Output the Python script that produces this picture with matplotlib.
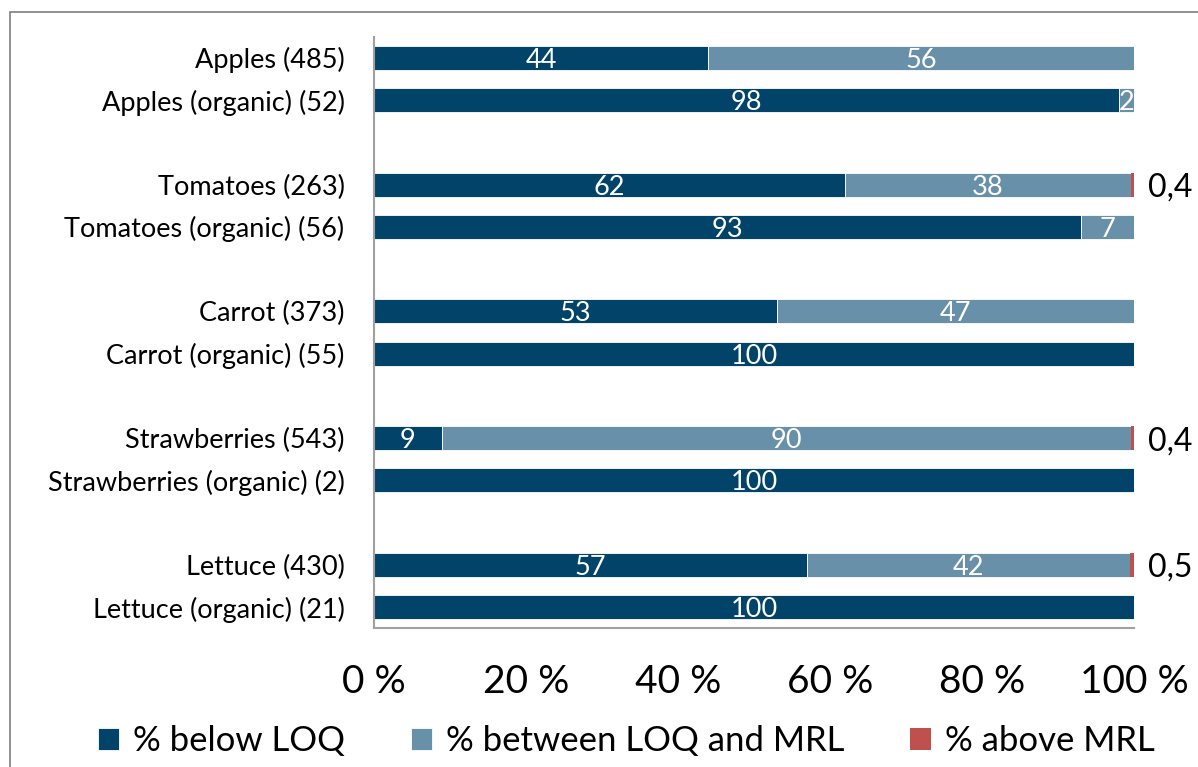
import matplotlib.pyplot as plt
from matplotlib.patches import Rectangle
from matplotlib.ticker import FuncFormatter

plt.rcParams['font.family'] = ['Lato', 'DejaVu Sans']

# data
categories = ["Apples (485)", "Apples (organic) (52)",
              "Tomatoes (263)", "Tomatoes (organic) (56)",
              "Carrot (373)", "Carrot (organic) (55)",
              "Strawberries (543)", "Strawberries (organic) (2)",
              "Lettuce (430)", "Lettuce (organic) (21)"]
below_loq = [44, 98, 62, 93, 53, 100, 9, 100, 57, 100]
between = [56, 2, 37.6, 7, 47, 0, 90.6, 0, 42.5, 0]
above_mrl = [0, 0, 0.4, 0, 0, 0, 0.4, 0, 0.5, 0]
below_labels = ["44", "98", "62", "93", "53", "100", "9", "100", "57", "100"]
between_labels = ["56", "2", "38", "7", "47", "", "90", "", "42", ""]
above_labels = ["", "", "0,4", "", "", "", "0,4", "", "0,5", ""]

# two bars per group, one empty slot between groups
ypos = [0, 1, 3, 4, 6, 7, 9, 10, 12, 13]

c_below = "#024469"
c_between = "#6890a8"
c_above = "#c0504d"

fig = plt.figure(figsize=(11.98, 7.67), dpi=100)
ax = fig.add_axes([0.312, 0.181, 0.6346, 0.771])

h = 0.57
lefts2 = below_loq
lefts3 = [a + b for a, b in zip(below_loq, between)]
ax.barh(ypos, below_loq, height=h, color=c_below, edgecolor="white", linewidth=0.6, label="% below LOQ")
ax.barh(ypos, between, left=lefts2, height=h, color=c_between, edgecolor="white", linewidth=0.6,
        label="% between LOQ and MRL")
ax.barh(ypos, above_mrl, left=lefts3, height=h, color=c_above, linewidth=0, label="% above MRL")

for y, a, b, la, lb, lc in zip(ypos, below_loq, between, below_labels, between_labels, above_labels):
    ax.text(a / 2, y, la, color="white", ha="center", va="center_baseline", fontsize=19.5)
    if lb:
        ax.text(a + b / 2, y, lb, color="white", ha="center", va="center_baseline", fontsize=19.5)
    if lc:
        ax.text(101.8, y, lc, color="black", ha="left", va="center_baseline", fontsize=23, clip_on=False)

ax.set_yticks(ypos)
ax.set_yticklabels(categories, fontsize=19.5)
ax.set_ylim(13.5, -0.5)
ax.set_xlim(0, 100)
ax.set_xticks([0, 20, 40, 60, 80, 100])
ax.xaxis.set_major_formatter(FuncFormatter(lambda v, p: f"{int(v)} %"))
ax.tick_params(axis="x", labelsize=28, length=0, pad=26)
ax.tick_params(axis="y", length=0, pad=21)
for s in ["top", "right"]:
    ax.spines[s].set_visible(False)
for s in ["left", "bottom"]:
    ax.spines[s].set_color("#a0a0a0")
    ax.spines[s].set_linewidth(1.5)

fig.legend(loc="center", bbox_to_anchor=(0.523, 0.034), ncol=3, frameon=False, fontsize=25,
           handlelength=0.6, handleheight=0.6, handletextpad=0.4, columnspacing=1.9)

fig.patches.append(Rectangle((10 / 1198, -0.1), 1.2, 1 - 12 / 767 + 0.1, transform=fig.transFigure,
                             fill=False, edgecolor="#7f7f7f", linewidth=1.2))

fig.savefig("out.png", dpi=100)
